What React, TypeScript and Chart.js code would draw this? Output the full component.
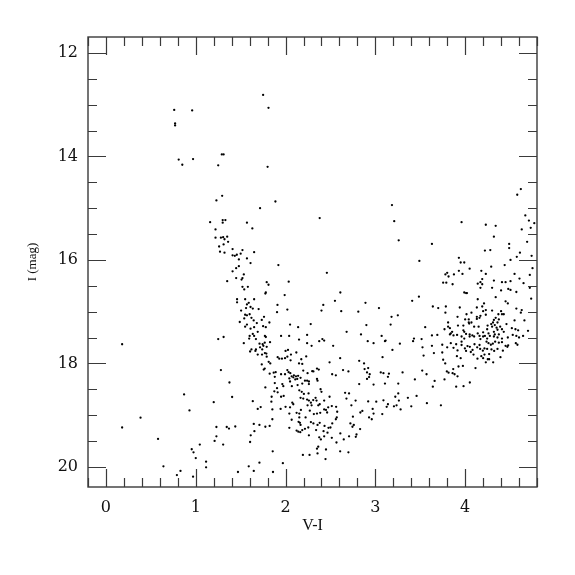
import React, { useEffect, useRef } from "react";
import { Chart, registerables } from "chart.js";

Chart.register(...registerables);

// Axis definitions
const xMin = -0.2;
const xMax = 4.8;
const yMin = 11.69;
const yMax = 20.39;
const xTickValues = [0, 1, 2, 3, 4];
const yTickValues = [12, 14, 16, 18, 20];
const xTitle = "V-I";
const yTitle = "I (mag)";

// Stars: [V-I, I]
const brightStars: number[][] = [
  [0.76, 13.10], [0.96, 13.11], [0.77, 13.36], [0.77, 13.40], [0.81, 14.06], [0.85, 14.16],
  [0.97, 14.05], [1.29, 13.96], [1.31, 13.96], [1.25, 14.17], [1.75, 12.81], [1.81, 13.06],
  [1.80, 14.20],
];

const blueBranch: number[][] = [
  [1.294, 14.76], [1.23, 14.85], [1.16, 15.27], [1.30, 15.23], [1.33, 15.23], [1.30, 15.28],
  [1.22, 15.41], [1.22, 15.57], [1.28, 15.57], [1.305, 15.56], [1.35, 15.55], [1.32, 15.60],
  [1.36, 15.65], [1.31, 15.70], [1.26, 15.74], [1.27, 15.84], [1.32, 15.86], [1.41, 15.79],
  [1.41, 15.91], [1.435, 15.92], [1.457, 15.90], [1.48, 15.99], [1.48, 16.12], [1.45, 16.16],
  [1.41, 16.22], [1.45, 16.35], [1.35, 16.41], [1.46, 16.76], [1.46, 16.82], [1.49, 17.20],
  [1.31, 17.49], [1.25, 17.53],
];

const upperMiddle: number[][] = [
  [1.887, 14.87], [1.716, 15.0], [2.38, 15.19], [1.57, 15.28], [1.63, 15.39], [1.52, 15.81],
  [1.65, 15.85], [1.50, 15.88], [1.57, 15.97], [1.61, 16.06], [1.92, 16.10], [1.535, 16.28],
  [1.52, 16.35], [1.51, 16.38], [2.46, 16.25], [1.79, 16.43], [1.81, 16.48], [2.035, 16.42],
  [1.52, 16.52], [1.58, 16.52], [1.54, 16.57], [1.78, 16.63], [1.775, 16.65], [1.99, 16.68],
  [2.61, 16.63], [1.55, 16.76], [1.65, 16.76], [1.59, 16.83], [1.57, 16.86], [2.55, 16.79],
  [2.89, 16.83], [1.91, 16.87], [2.42, 16.87], [3.04, 16.93], [1.56, 16.93], [1.61, 16.91],
  [1.635, 16.94], [1.70, 16.95], [1.505, 16.98], [2.02, 16.96], [1.905, 17.01], [2.40, 16.98],
  [2.62, 16.99], [2.81, 17.0], [1.60, 17.05], [1.55, 17.06], [1.57, 17.07], [1.76, 17.10],
  [1.54, 17.13], [1.62, 17.12], [1.645, 17.17], [1.735, 17.16], [1.68, 17.22], [1.82, 17.21],
  [2.05, 17.25], [2.28, 17.24], [2.90, 17.26], [1.57, 17.25], [1.55, 17.29], [1.61, 17.33],
  [1.65, 17.30], [1.75, 17.28], [1.78, 17.30], [2.14, 17.30], [1.69, 17.39], [1.635, 17.43],
  [1.60, 17.47], [1.65, 17.47], [1.77, 17.47], [1.78, 17.49], [1.95, 17.47], [2.04, 17.47],
  [2.24, 17.45], [2.68, 17.39], [2.84, 17.44], [3.07, 17.47], [1.595, 17.52], [1.67, 17.53],
  [2.41, 17.53], [2.15, 17.54],
];

const redUpper: number[][] = [
  [4.62, 14.63], [4.58, 14.74], [3.185, 14.94], [3.21, 15.25], [4.67, 15.14], [4.71, 15.24],
  [4.77, 15.29], [4.73, 15.38], [4.63, 15.41], [3.96, 15.27], [4.23, 15.32], [4.34, 15.34],
  [3.26, 15.62], [4.32, 15.55], [3.63, 15.69], [4.69, 15.65], [4.49, 15.69], [4.49, 15.77],
  [4.22, 15.82], [4.28, 15.81], [4.61, 15.86], [4.575, 15.94], [4.74, 15.92], [3.49, 16.02],
  [3.93, 15.96], [3.95, 16.05], [3.99, 16.05], [4.505, 16.0], [4.44, 16.10], [4.75, 16.16],
  [3.93, 16.21], [4.05, 16.17], [4.29, 16.13], [3.97, 16.27], [3.80, 16.25], [3.78, 16.28],
  [3.815, 16.32], [3.875, 16.28], [4.18, 16.21], [4.23, 16.27], [4.55, 16.27], [4.72, 16.29],
  [3.755, 16.44], [3.79, 16.44], [3.86, 16.47], [4.19, 16.37], [4.17, 16.43], [4.14, 16.46],
  [4.19, 16.47], [4.32, 16.40], [4.17, 16.54], [4.30, 16.54], [4.41, 16.43], [4.45, 16.43],
  [4.505, 16.41], [4.605, 16.36], [4.65, 16.45], [4.48, 16.56], [4.505, 16.58], [4.40, 16.59],
  [4.57, 16.62], [3.99, 16.63], [4.01, 16.64], [4.02, 16.64], [4.72, 16.54], [3.41, 16.79],
  [3.485, 16.71], [4.14, 16.76], [4.34, 16.72], [4.21, 16.84], [4.19, 16.90], [4.45, 16.80],
  [4.475, 16.84], [4.735, 16.75], [3.64, 16.90], [3.70, 16.93], [3.785, 16.90], [3.78, 17.02],
  [3.94, 16.92], [4.13, 16.92], [4.30, 16.98], [4.20, 16.99], [4.23, 16.97], [4.40, 16.99],
  [4.57, 16.94], [4.63, 16.97], [4.62, 17.02], [4.37, 17.05], [4.41, 17.05], [4.43, 17.05],
  [3.18, 17.10], [3.25, 17.07], [4.015, 17.05], [4.07, 17.02], [3.915, 17.10], [4.17, 17.08],
  [4.13, 17.10], [4.23, 17.06], [4.00, 17.15], [4.04, 17.15], [4.07, 17.21], [4.04, 17.21],
  [4.13, 17.14], [4.16, 17.12], [4.34, 17.12], [4.32, 17.16], [4.31, 17.21], [4.36, 17.21],
  [4.375, 17.15], [4.55, 17.17], [4.66, 17.17],
];

const redClump: number[][] = [
  [3.17, 17.25], [3.555, 17.30], [3.77, 17.34], [3.81, 17.21], [3.81, 17.29], [3.83, 17.32],
  [3.855, 17.39], [3.84, 17.42], [3.92, 17.27], [3.98, 17.27], [3.98, 17.36], [3.99, 17.39],
  [4.045, 17.23], [4.10, 17.29], [4.15, 17.29], [4.25, 17.27], [4.245, 17.34], [4.29, 17.24],
  [4.30, 17.29], [4.33, 17.26], [4.35, 17.31], [4.36, 17.35], [4.39, 17.29], [4.41, 17.34],
  [4.43, 17.39], [4.46, 17.24], [4.52, 17.32], [4.56, 17.34], [3.43, 17.52], [3.515, 17.53],
  [3.63, 17.46], [3.69, 17.45], [3.83, 17.44], [3.87, 17.46], [3.91, 17.45], [3.96, 17.48],
  [3.99, 17.52], [4.01, 17.43], [4.05, 17.44], [4.08, 17.46], [4.05, 17.48], [4.14, 17.42],
  [4.16, 17.47], [4.20, 17.40], [4.22, 17.47], [4.26, 17.42], [4.275, 17.47], [4.245, 17.52],
  [4.32, 17.39], [4.33, 17.44], [4.32, 17.48], [4.375, 17.44], [4.36, 17.50], [4.41, 17.52],
  [4.475, 17.50], [4.53, 17.45], [4.57, 17.47], [4.60, 17.50], [4.645, 17.47], [4.59, 17.36],
  [4.70, 17.37], [4.10, 17.48], [4.17, 17.53], [4.20, 17.48],
  [3.114, 17.56], [3.19, 17.74], [3.42, 17.57], [3.273, 17.62], [3.525, 17.69], [3.537, 17.85],
  [3.63, 17.66], [3.652, 17.80], [3.745, 17.64], [3.745, 17.79], [3.755, 17.93], [3.778, 18.0],
  [3.80, 17.69], [3.84, 17.61], [3.87, 17.70], [3.90, 17.63], [3.908, 17.86], [3.915, 17.75],
  [3.95, 17.90], [3.96, 17.58], [3.96, 17.645], [3.975, 18.05], [3.926, 18.06], [3.867, 18.11],
  [3.86, 18.19], [3.815, 18.18], [3.796, 18.155], [3.882, 18.21], [3.915, 18.25], [3.90, 18.45],
  [3.982, 18.44], [4.052, 18.37], [4.115, 18.09], [3.997, 17.71], [4.01, 17.76], [4.026, 17.665],
  [4.052, 17.68], [4.063, 17.78], [4.082, 17.74], [4.093, 17.83], [4.104, 17.63], [4.134, 17.69],
  [4.16, 17.645], [4.167, 17.72], [4.137, 17.91], [4.18, 17.86], [4.20, 17.90], [4.215, 17.83],
  [4.23, 17.98], [4.252, 17.92], [4.267, 17.92], [4.312, 17.98], [4.238, 17.58], [4.26, 17.61],
  [4.286, 17.64], [4.308, 17.62], [4.334, 17.58], [4.215, 17.71], [4.245, 17.72], [4.293, 17.73],
  [4.323, 17.76], [4.36, 17.72], [4.197, 17.755], [4.267, 17.82], [4.393, 17.88], [4.375, 17.60],
  [4.41, 17.59], [4.45, 17.66], [4.479, 17.65], [4.42, 17.755], [4.47, 17.68], [4.564, 17.61],
  [4.582, 17.64],
];

const redLower: number[][] = [
  [3.14, 18.26], [3.151, 18.20], [3.255, 18.39], [3.303, 18.175], [3.207, 18.83], [3.236, 18.81],
  [3.262, 18.72], [3.255, 18.58], [3.222, 18.645], [3.281, 18.89], [3.362, 18.665], [3.40, 18.83],
  [3.459, 18.63], [3.44, 18.31], [3.57, 18.21], [3.522, 18.14], [3.574, 18.77], [3.66, 18.34],
  [3.64, 18.45], [3.73, 18.81], [3.77, 18.31],
];

const faintBlue: number[][] = [
  [0.18, 17.63], [1.28, 18.13], [1.375, 18.37], [1.405, 18.65], [0.87, 18.60], [1.20, 18.75],
  [0.93, 18.91], [1.23, 19.23], [1.23, 19.41], [0.385, 19.05], [0.18, 19.24], [1.345, 19.23],
  [1.37, 19.26], [1.44, 19.22], [0.58, 19.46], [1.21, 19.50], [1.305, 19.57], [1.045, 19.57],
  [0.955, 19.66], [0.975, 19.72], [1.0, 19.83], [1.115, 19.90], [1.115, 20.01], [0.64, 19.99],
  [0.83, 20.08], [0.79, 20.16], [0.97, 20.19], [1.47, 20.10],
];

const lowerMiddle: number[][] = [
  [1.535, 17.61], [1.62, 17.73], [1.605, 17.77], [1.67, 17.73], [1.71, 17.62], [1.716, 17.69],
  [1.745, 17.63], [1.753, 17.66], [1.768, 17.60], [1.79, 17.68], [1.827, 17.59], [1.74, 17.73],
  [2.24, 17.61], [2.29, 17.66], [2.375, 17.57], [2.43, 17.56], [2.53, 17.66], [2.915, 17.57],
  [2.98, 17.61], [3.107, 17.57],
  [1.664, 17.76], [1.69, 17.83], [1.738, 17.83], [1.77, 17.80], [1.786, 17.81], [1.79, 17.87],
  [1.912, 17.88], [1.96, 17.91], [2.0, 17.76], [2.027, 17.74], [2.06, 17.83], [2.02, 17.87],
  [2.12, 17.79], [2.175, 17.92], [2.23, 17.865], [2.15, 18.0], [2.186, 18.01], [1.994, 17.90],
  [2.056, 17.94], [1.93, 17.91], [1.735, 18.02], [1.812, 17.97], [1.83, 18.0], [1.768, 18.10],
  [1.757, 18.12], [2.608, 17.90], [2.82, 17.95], [2.874, 18.0], [3.08, 17.88], [2.88, 18.11],
  [2.92, 18.09], [2.49, 17.98], [2.37, 18.12], [2.35, 18.10],
  [1.823, 18.20], [1.868, 18.18], [1.89, 18.17], [1.95, 18.21], [1.88, 18.26], [1.994, 18.21],
  [2.02, 18.13], [2.034, 18.17], [2.053, 18.19], [2.068, 18.25], [2.093, 18.23], [2.116, 18.25],
  [2.14, 18.24], [2.167, 18.28], [2.13, 18.30], [2.108, 18.31], [2.086, 18.27], [2.197, 18.14],
  [2.245, 18.19], [2.216, 18.335], [2.24, 18.335], [2.297, 18.15], [2.26, 18.35], [2.356, 18.335],
  [2.35, 18.30], [2.31, 18.155], [2.519, 18.21], [2.56, 18.23], [2.64, 18.13], [2.70, 18.155],
  [2.907, 18.175], [2.937, 18.21], [3.09, 18.19], [3.06, 18.175], [2.907, 18.30], [2.93, 18.265],
  [2.98, 18.41], [3.107, 18.39], [2.82, 18.40], [1.88, 18.38], [1.964, 18.40], [1.975, 18.44],
  [2.05, 18.35], [2.042, 18.29], [1.775, 18.465], [2.07, 18.44], [2.134, 18.42], [2.186, 18.39],
  [2.26, 18.40],
];

const faintMiddle: number[][] = [
  [1.875, 18.54], [1.912, 18.56], [1.95, 18.645], [1.979, 18.63], [1.845, 18.645], [1.842, 18.74],
  [1.905, 18.48], [2.153, 18.52], [2.18, 18.55], [2.204, 18.59], [2.256, 18.58], [2.167, 18.665],
  [2.197, 18.68], [2.24, 18.70], [2.26, 18.72], [2.282, 18.76], [2.308, 18.71], [2.334, 18.665],
  [2.345, 18.72], [2.39, 18.50], [2.40, 18.55], [2.49, 18.645], [2.43, 18.72], [2.38, 18.79],
  [2.364, 18.81], [2.29, 18.81], [2.245, 18.81], [2.075, 18.76], [2.086, 18.79], [2.05, 18.85],
  [2.0, 18.84], [1.945, 18.88], [1.853, 18.89], [1.723, 18.845], [1.69, 18.88], [1.635, 18.73],
  [2.663, 18.57], [2.678, 18.68], [2.707, 18.58], [2.78, 18.72], [2.733, 18.81], [2.92, 18.735],
  [3.01, 18.74], [3.09, 18.715], [3.126, 18.84], [3.14, 18.79], [2.97, 18.88], [2.98, 18.97],
  [2.96, 19.08], [3.077, 18.98],
  [2.171, 18.90], [2.153, 19.045], [2.145, 19.13], [2.16, 19.15], [2.153, 18.97], [2.123, 18.955],
  [2.042, 18.97], [2.223, 19.045], [2.27, 18.915], [2.315, 18.98], [2.35, 18.97], [2.386, 18.955],
  [2.45, 18.90], [2.463, 18.95], [2.475, 18.85], [2.515, 18.825], [2.43, 18.89], [2.563, 18.84],
  [2.575, 18.935], [2.57, 19.045], [2.56, 19.08], [2.52, 19.16], [2.50, 19.24], [2.478, 19.245],
  [2.434, 19.21], [2.38, 19.15], [2.356, 19.19], [2.31, 19.16], [2.282, 19.135], [2.253, 19.24],
  [2.216, 19.265], [2.167, 19.19], [2.068, 19.09], [1.853, 19.08], [1.823, 19.21], [1.775, 19.225],
  [1.709, 19.19], [1.646, 19.17], [1.653, 19.31], [1.612, 19.39], [1.605, 19.52], [2.61, 19.355],
  [2.648, 19.47], [2.707, 19.41], [2.79, 19.375], [2.782, 19.42], [2.745, 19.225], [2.76, 19.19],
  [2.75, 19.03], [2.722, 19.16], [2.83, 19.27], [2.833, 18.95], [2.855, 18.92], [2.93, 19.045],
  [2.123, 19.30], [2.142, 19.32], [2.164, 19.33], [2.186, 19.29], [2.26, 19.39], [2.34, 19.29],
  [2.423, 19.31], [2.375, 19.43], [2.393, 19.47], [2.43, 19.41], [2.467, 19.34], [2.515, 19.44],
  [2.567, 19.53], [2.608, 19.70], [2.70, 19.72], [2.364, 19.61], [2.35, 19.65], [2.356, 19.74],
  [2.45, 19.665], [2.267, 19.77], [2.193, 19.77], [2.445, 19.85], [1.857, 19.70], [1.97, 19.93],
  [1.709, 19.92], [1.59, 19.99], [1.646, 20.08], [1.86, 20.10], [2.042, 19.245],
];

const groups = [brightStars, blueBranch, upperMiddle, redUpper, redClump, redLower, faintBlue, lowerMiddle, faintMiddle];

const FRAME_COLOR = "#3a3a3a";
const TEXT_COLOR = "#111";
const TICK_FONT = "'DejaVu Serif', 'Liberation Serif', serif";
const TITLE_FONT = "'Liberation Serif', 'DejaVu Serif', serif";

const frameTicks = {
  id: "frameTicks",
  afterDraw(chart: any) {
    const { ctx, chartArea } = chart;
    const { left, right, top, bottom } = chartArea;
    const xs = chart.scales.x;
    const ys = chart.scales.y;
    ctx.save();
    ctx.strokeStyle = FRAME_COLOR;
    ctx.lineWidth = 1.4;
    ctx.strokeRect(left, top, right - left, bottom - top);
    ctx.lineWidth = 1.2;
    ctx.beginPath();
    for (let k = -1; k <= 24; k++) {
      const v = k * 0.2;
      if (v < xMin - 1e-6 || v > xMax + 1e-6) continue;
      const px = Math.round(xs.getPixelForValue(v)) + 0.5;
      const len = k % 5 === 0 ? 18 : 9;
      ctx.moveTo(px, bottom);
      ctx.lineTo(px, bottom - len);
      ctx.moveTo(px, top);
      ctx.lineTo(px, top + len);
    }
    for (let k = 22; k <= 42; k++) {
      const v = k * 0.5;
      if (v < yMin || v > yMax) continue;
      const py = Math.round(ys.getPixelForValue(v)) + 0.5;
      const len = k % 4 === 0 ? 18 : 9;
      ctx.moveTo(left, py);
      ctx.lineTo(left + len, py);
      ctx.moveTo(right, py);
      ctx.lineTo(right - len, py);
    }
    ctx.stroke();
    ctx.restore();
  },
};

export default function App() {
  const ref = useRef<HTMLCanvasElement | null>(null);
  useEffect(() => {
    if (!ref.current) return;
    const chart = new Chart(ref.current, {
      type: "scatter",
      data: {
        datasets: groups.map((g) => ({
          data: g.map(([x, y]) => ({ x, y })),
          pointRadius: 1.15,
          pointHoverRadius: 1.15,
          pointBackgroundColor: "#000",
          pointBorderWidth: 0,
          showLine: false,
        })),
      },
      options: {
        animation: false,
        responsive: false,
        maintainAspectRatio: false,
        events: [],
        layout: { padding: { top: 37, right: 38, left: 0, bottom: 0 } },
        plugins: { legend: { display: false }, tooltip: { enabled: false } },
        scales: {
          x: {
            type: "linear",
            min: xMin,
            max: xMax,
            grid: { display: false, drawTicks: false },
            border: { display: false },
            afterBuildTicks: (s: any) => {
              s.ticks = xTickValues.map((v) => ({ value: v }));
            },
            afterFit: (s: any) => {
              s.height = 88;
            },
            ticks: {
              padding: 11,
              maxRotation: 0,
              color: TEXT_COLOR,
              font: { family: TICK_FONT, size: 16 },
            },
            title: {
              display: true,
              text: xTitle,
              color: TEXT_COLOR,
              font: { family: TITLE_FONT, size: 16 },
              padding: { top: 0, bottom: 40 },
            },
          },
          y: {
            type: "linear",
            reverse: true,
            min: yMin,
            max: yMax,
            grid: { display: false, drawTicks: false },
            border: { display: false },
            afterBuildTicks: (s: any) => {
              s.ticks = yTickValues.map((v) => ({ value: v }));
            },
            afterFit: (s: any) => {
              s.width = 88;
            },
            ticks: {
              padding: 10,
              color: TEXT_COLOR,
              font: { family: TICK_FONT, size: 16 },
            },
            title: {
              display: true,
              text: yTitle,
              color: TEXT_COLOR,
              font: { family: TITLE_FONT, size: 13 },
              padding: { top: 25, bottom: 0 },
            },
          },
        },
      },
      plugins: [frameTicks],
    });
    return () => chart.destroy();
  }, []);
  return (
    <div style={{ position: "fixed", left: 0, top: 0, width: 575, height: 575, background: "#fff" }}>
      <canvas ref={ref} width={575} height={575} style={{ width: 575, height: 575 }} />
    </div>
  );
}
